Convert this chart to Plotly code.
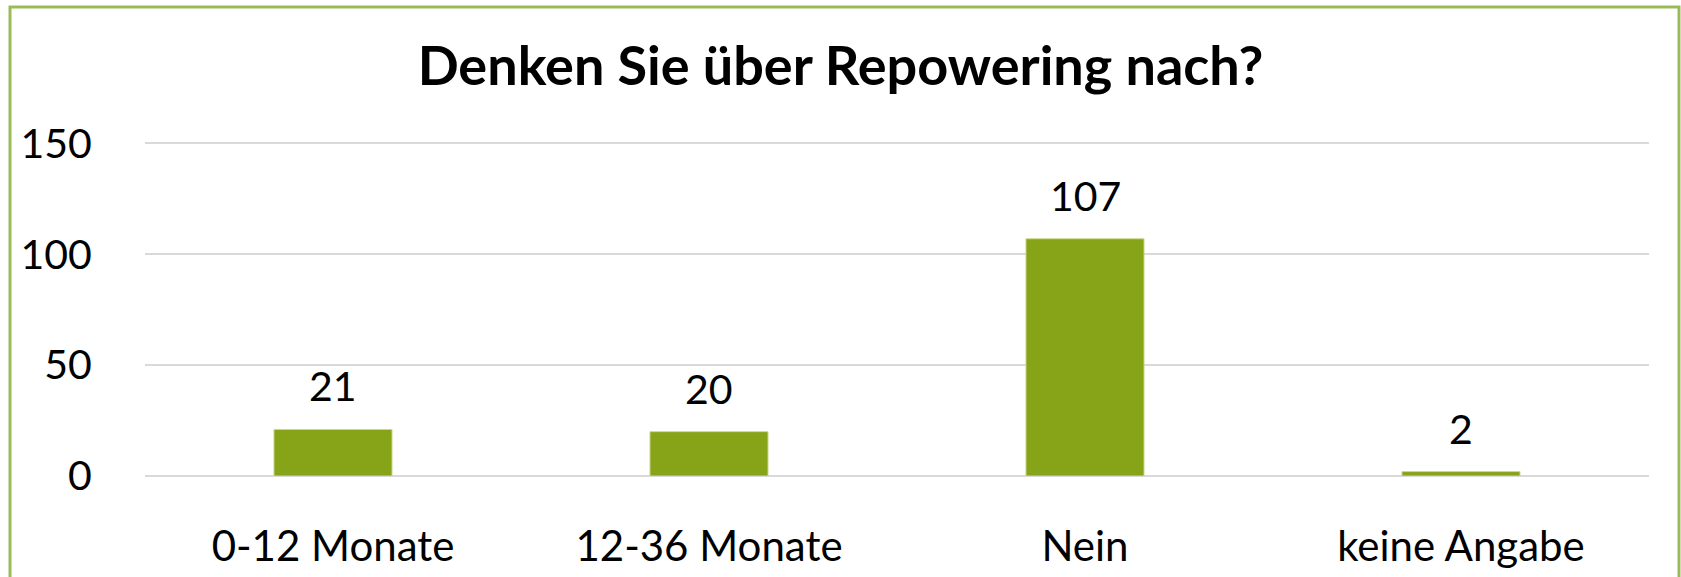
import plotly.graph_objects as go

categories = ["0-12 Monate", "12-36 Monate", "Nein", "keine Angabe"]
values = [21, 20, 107, 2]
y_ticks = [0, 50, 100, 150]
title_text = "Denken Sie über Repowering nach?"

W, H = 1681, 577
Y_MAX = 152
px_per_unit = (476 - 143) / 150.0
L, R, B = 145, 32, H - 476
T = int(round(476 - Y_MAX * px_per_unit))
pw = W - L - R
ph = H - T - B

FONT = "Lato, Calibri, sans-serif"

fig = go.Figure()
fig.add_trace(go.Bar(
    x=categories, y=values,
    marker=dict(color="#87A317", line=dict(color="#C9D98F", width=1)),
    hoverinfo="x+y",
))

for c, v in zip(categories, values):
    fig.add_annotation(x=c, y=v, text=str(v), showarrow=False,
                       yanchor="bottom", yshift=17,
                       font=dict(family=FONT, size=41, color="#000000"))

# outer chart border
fig.add_shape(type="rect", xref="paper", yref="paper",
              x0=(10 - L) / pw, x1=(1679 - L) / pw,
              y0=(H - B - 600) / ph, y1=(H - B - 7) / ph,
              line=dict(color="#9BBB59", width=3), fillcolor="rgba(0,0,0,0)", layer="below")

fig.update_layout(
    width=W, height=H,
    margin=dict(l=L, r=R, t=T, b=B),
    paper_bgcolor="white", plot_bgcolor="white",
    bargap=0.686,
    showlegend=False,
    title=dict(text="<b>" + title_text + "</b>", x=0.5, xref="container", xanchor="center",
               y=1 - 66 / H, yref="container", yanchor="middle",
               font=dict(family=FONT, size=54, color="#000000")),
    font=dict(family=FONT, size=41, color="#000000"),
    xaxis=dict(showgrid=False, showline=False, zeroline=False, automargin=False,
               ticks="outside", ticklen=34, tickcolor="rgba(0,0,0,0)",
               tickfont=dict(size=42)),
    yaxis=dict(range=[0, Y_MAX], tickvals=y_ticks, showgrid=True, gridcolor="#D9D9D9", gridwidth=1.5,
               zeroline=True, zerolinecolor="#D9D9D9", zerolinewidth=1.5, automargin=False,
               showline=False, ticks="outside", ticklen=44, tickcolor="rgba(0,0,0,0)",
               tickfont=dict(size=41)),
)

fig.write_html("out.html", config={"displayModeBar": False},
               post_script="document.body.style.margin='0';document.body.style.overflow='hidden';")
